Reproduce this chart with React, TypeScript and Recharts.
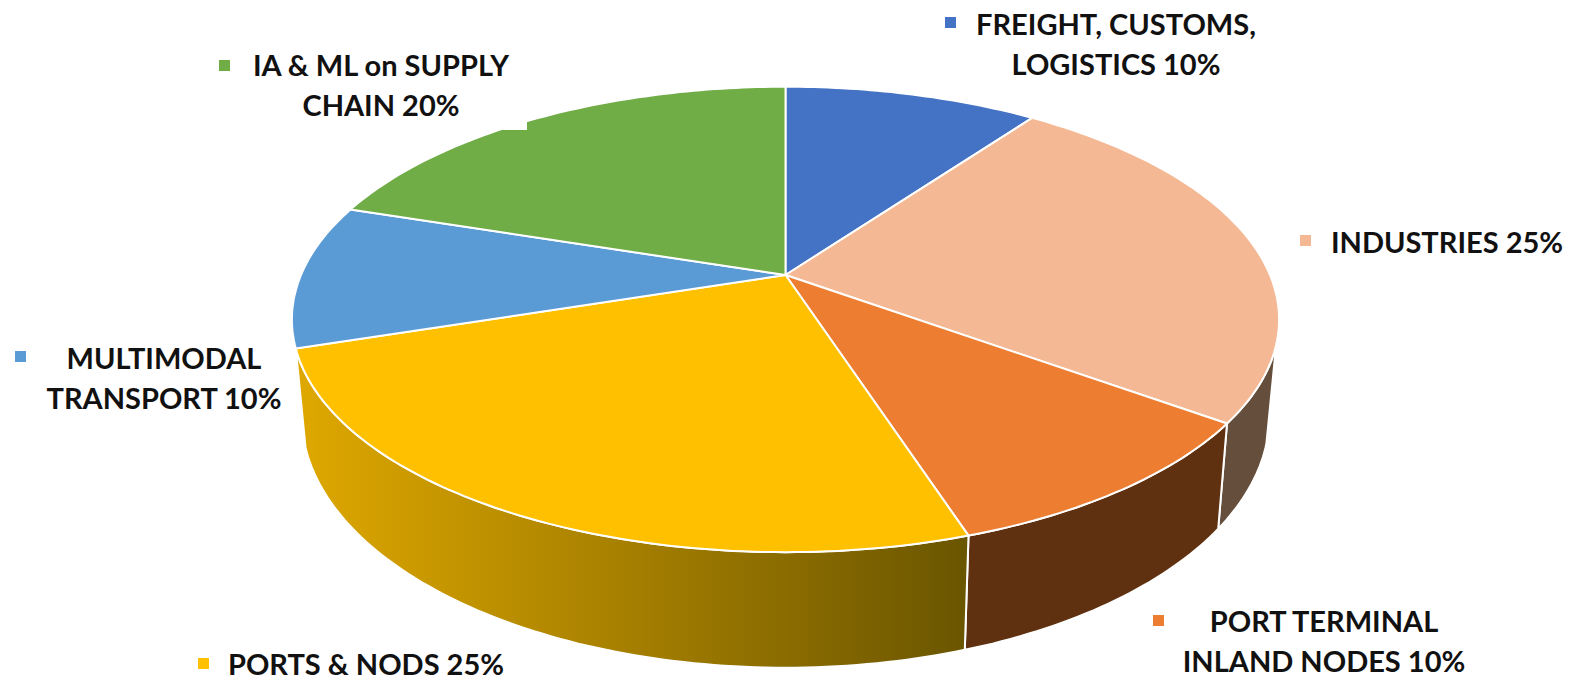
import { Pie, PieChart } from "recharts";

const categories = [
  "FREIGHT, CUSTOMS, LOGISTICS",
  "INDUSTRIES",
  "PORT TERMINAL INLAND NODES",
  "PORTS & NODS",
  "MULTIMODAL TRANSPORT",
  "IA & ML on SUPPLY CHAIN",
];
const shares = [10, 25, 10, 25, 10, 20];
const topColors = ["#4472C4", "#F4B994", "#ED7D31", "#FFC000", "#5B9BD5", "#70AD47"];
const wallColors = ["#2A4578", "#654F3C", "#5F3110", "url(#portsWall)", "#375F82", "#44692B"];

const legendLines = [
  ["FREIGHT, CUSTOMS,", "LOGISTICS 10%"],
  ["INDUSTRIES 25%"],
  ["PORT TERMINAL", "INLAND NODES 10%"],
  ["PORTS & NODS 25%"],
  ["MULTIMODAL", "TRANSPORT 10%"],
  ["IA & ML on SUPPLY", "CHAIN 20%"],
];

// legend layout: square x/y, text centre x, first baseline
const legendPos = [
  { sx: 945, sy: 17, tx: 1116, ty: 35 },
  { sx: 1300, sy: 235, tx: 1447, ty: 253 },
  { sx: 1153, sy: 615, tx: 1324, ty: 632 },
  { sx: 198, sy: 658, tx: 366, ty: 675 },
  { sx: 15, sy: 351, tx: 164, ty: 369 },
  { sx: 219, sy: 60, tx: 381, ty: 76 },
];

const tableData = categories.map((name, i) => ({
  name,
  value: shares[i],
  fill: topColors[i],
  wall: wallColors[i],
}));

// the picture is a tilted disc, so the flat circle gets a perspective mapping
const TILT = -0.191;
const SQUASH = 0.4628;
const DEPTH = 93.5;
const WALL_SHRINK = 0.98;
const WALL_FROM = 107;
const WALL_TO = 252;

const project = (cx: number, cy: number, r: number, clockDeg: number) => {
  const t = (clockDeg * Math.PI) / 180;
  const u = Math.sin(t);
  const v = -Math.cos(t);
  const d = 1 + TILT * v;
  return { x: cx + (r * u) / d, y: cy + (r * SQUASH * v) / d, d };
};

const arcPoints = (cx: number, cy: number, r: number, from: number, to: number) => {
  const steps = Math.max(2, Math.ceil(Math.abs(to - from)));
  const pts = [];
  for (let i = 0; i <= steps; i++) {
    pts.push(project(cx, cy, r, from + ((to - from) * i) / steps));
  }
  return pts;
};

const toPath = (pts: { x: number; y: number }[]) =>
  pts.map((p, i) => `${i ? "L" : "M"}${p.x.toFixed(1)} ${p.y.toFixed(1)}`).join(" ");

const TopSlice = (props: any) => {
  const { cx, cy, outerRadius, startAngle, endAngle, fill, name } = props;
  const pts = arcPoints(cx, cy, outerRadius, 90 - startAngle, 90 - endAngle);
  return (
    <g>
      <path
        d={`M${cx} ${cy} ${toPath(pts).replace("M", "L")} Z`}
        fill={fill}
        stroke="#ffffff"
        strokeWidth={2}
        strokeLinejoin="round"
      />
      {/* small nick in the green edge of the source image */}
      {name === categories[5] && <rect x={497} y={116} width={30} height={14} fill="#ffffff" />}
    </g>
  );
};

const WallSlice = (props: any) => {
  const { cx, cy, outerRadius, startAngle, endAngle } = props;
  const from = Math.max(90 - startAngle, WALL_FROM);
  const to = Math.min(90 - endAngle, WALL_TO);
  if (to <= from) return <g />;
  const top = arcPoints(cx, cy, outerRadius, from, to);
  const bottom = top
    .map((p) => ({ x: cx + (p.x - cx) * WALL_SHRINK, y: p.y + DEPTH / p.d }))
    .reverse();
  return (
    <path
      d={`${toPath(top)} ${toPath(bottom).replace("M", "L")} Z`}
      fill={props.wall ?? props.payload?.wall}
      stroke="#ffffff"
      strokeWidth={2}
      strokeLinejoin="round"
    />
  );
};

export default function App() {
  return (
    <div style={{ position: "absolute", left: 0, top: 0, width: 1569, height: 680, overflow: "hidden", background: "#fff" }}>
      <PieChart width={1569} height={680} margin={{ top: 0, right: 0, bottom: 0, left: 0 }}>
        <defs>
          <linearGradient id="portsWall" gradientUnits="userSpaceOnUse" x1={298} y1={0} x2={967} y2={0}>
            <stop offset="0%" stopColor="#DFA800" />
            <stop offset="100%" stopColor="#6A5500" />
          </linearGradient>
        </defs>
        <Pie
          data={tableData}
          dataKey="value"
          cx={785.5}
          cy={275}
          outerRadius={484.5}
          startAngle={90}
          endAngle={-270}
          shape={WallSlice}
          stroke="none"
          isAnimationActive={false}
        />
        <Pie
          data={tableData}
          dataKey="value"
          cx={785.5}
          cy={275}
          outerRadius={484.5}
          startAngle={90}
          endAngle={-270}
          shape={TopSlice}
          stroke="none"
          isAnimationActive={false}
        />
        {legendLines.map((lines, i) => (
          <g key={categories[i]}>
            <rect x={legendPos[i].sx} y={legendPos[i].sy} width={11} height={11} fill={topColors[i]} />
            {lines.map((line, j) => (
              <text
                key={line}
                x={legendPos[i].tx}
                y={legendPos[i].ty + j * 40}
                textAnchor="middle"
                fontFamily="Lato, 'Open Sans', sans-serif"
                fontWeight={700}
                fontSize={29}
                fill="#111111"
              >
                {line}
              </text>
            ))}
          </g>
        ))}
      </PieChart>
    </div>
  );
}
